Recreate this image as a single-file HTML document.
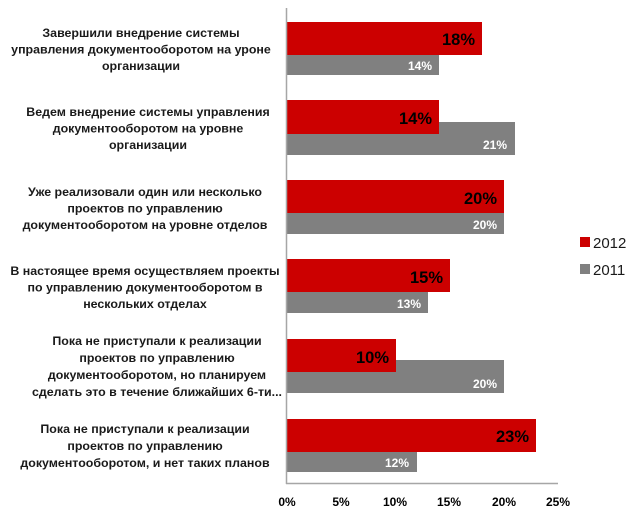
<!DOCTYPE html>
<html><head><meta charset="utf-8"><style>
html,body{margin:0;padding:0;background:#fff;}
svg{display:block;font-family:"Liberation Sans","DejaVu Sans",sans-serif;}
.l{font-size:12.4px;font-weight:bold;fill:#1a1a1a;text-anchor:middle;}
.r{font-size:16.5px;font-weight:bold;fill:#000;text-anchor:end;}
.g{font-size:12px;font-weight:bold;fill:#fff;text-anchor:end;}
.t{font-size:12px;font-weight:bold;fill:#000;text-anchor:middle;}
</style></head><body>
<svg width="640" height="514" viewBox="0 0 640 514">
<g>
<rect x="287" y="42" width="152" height="33" fill="#808080"/>
<rect x="287" y="22" width="195" height="33" fill="#cc0000"/>
<text class="r" x="475" y="45">18%</text>
<text class="g" x="432" y="70">14%</text>

<rect x="287" y="122" width="228" height="33" fill="#808080"/>
<rect x="287" y="100" width="152" height="34" fill="#cc0000"/>
<text class="r" x="432" y="124">14%</text>
<text class="g" x="507" y="149">21%</text>

<rect x="287" y="201" width="217" height="33" fill="#808080"/>
<rect x="287" y="180" width="217" height="33" fill="#cc0000"/>
<text class="r" x="497" y="204">20%</text>
<text class="g" x="497" y="229">20%</text>

<rect x="287" y="280" width="141" height="33" fill="#808080"/>
<rect x="287" y="259" width="163" height="33" fill="#cc0000"/>
<text class="r" x="443" y="283">15%</text>
<text class="g" x="421" y="308">13%</text>

<rect x="287" y="360" width="217" height="33" fill="#808080"/>
<rect x="287" y="339" width="109" height="33" fill="#cc0000"/>
<text class="r" x="389" y="363">10%</text>
<text class="g" x="497" y="388">20%</text>

<rect x="287" y="439" width="130" height="33" fill="#808080"/>
<rect x="287" y="419" width="249" height="33" fill="#cc0000"/>
<text class="r" x="529" y="442">23%</text>
<text class="g" x="409" y="467">12%</text>
</g>
<line x1="286.5" y1="8" x2="286.5" y2="484" stroke="#a6a6a6" stroke-width="1.5"/>
<line x1="286" y1="483.5" x2="558" y2="483.5" stroke="#a6a6a6" stroke-width="1.5"/>
<text class="t" x="287" y="506">0%</text>
<text class="t" x="341" y="506">5%</text>
<text class="t" x="395" y="506">10%</text>
<text class="t" x="449" y="506">15%</text>
<text class="t" x="504" y="506">20%</text>
<text class="t" x="558" y="506">25%</text>

<text class="l" x="141" y="37">Завершили внедрение системы</text>
<text class="l" x="141" y="53.5">управления документооборотом на уроне</text>
<text class="l" x="141" y="70">организации</text>

<text class="l" x="148" y="116">Ведем внедрение системы управления</text>
<text class="l" x="148" y="132.5">документооборотом на уровне</text>
<text class="l" x="148" y="149">организации</text>

<text class="l" x="145" y="196">Уже реализовали один или несколько</text>
<text class="l" x="145" y="212.5">проектов по управлению</text>
<text class="l" x="145" y="229">документооборотом на уровне отделов</text>

<text class="l" x="145" y="275">В настоящее время осуществляем проекты</text>
<text class="l" x="145" y="291.5">по управлению документооборотом в</text>
<text class="l" x="145" y="308">нескольких отделах</text>

<text class="l" x="157" y="345">Пока не приступали к реализации</text>
<text class="l" x="157" y="362">проектов по управлению</text>
<text class="l" x="157" y="379">документооборотом, но планируем</text>
<text class="l" x="157" y="396">сделать это в течение ближайших 6-ти...</text>

<text class="l" x="145" y="433">Пока не приступали к реализации</text>
<text class="l" x="145" y="450">проектов по управлению</text>
<text class="l" x="145" y="467">документооборотом, и нет таких планов</text>

<rect x="580" y="237" width="10" height="10" fill="#cc0000"/>
<text x="593" y="248" font-size="15" fill="#1a1a1a">2012</text>
<rect x="580" y="264" width="10" height="10" fill="#808080"/>
<text x="593" y="275" font-size="15" fill="#1a1a1a">2011</text>
</svg>
</body></html>
